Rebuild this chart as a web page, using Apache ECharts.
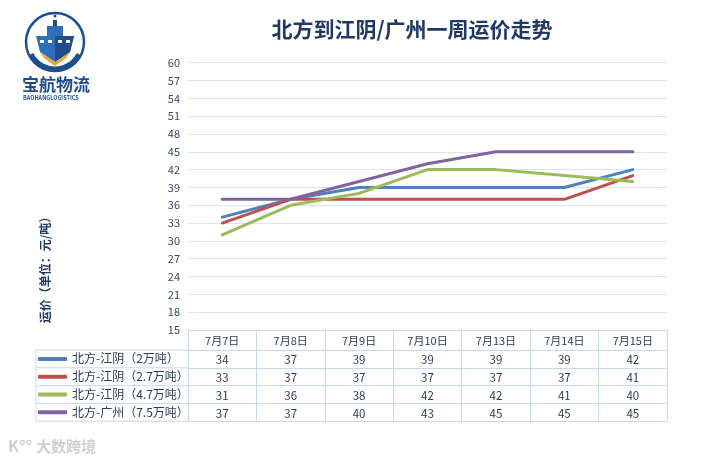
<!DOCTYPE html>
<html><head><meta charset="utf-8">
<script src="https://cdn.jsdelivr.net/npm/echarts@6/dist/echarts.min.js"></script>
<style>html,body{margin:0;padding:0;background:#fff}#c{width:719px;height:463px}</style>
</head><body><div id="c"></div>
<script>
const categories = ['7月7日','7月8日','7月9日','7月10日','7月13日','7月14日','7月15日'];
const seriesNames = ['北方-江阴（2万吨）','北方-江阴（2.7万吨）','北方-江阴（4.7万吨）','北方-广州（7.5万吨）'];
const jiangyin2 = [34,37,39,39,39,39,42];
const jiangyin27 = [33,37,37,37,37,37,41];
const jiangyin47 = [31,36,38,42,42,41,40];
const guangzhou75 = [37,37,40,43,45,45,45];
const allValues = [jiangyin2, jiangyin27, jiangyin47, guangzhou75];
const colors = ['#4F81BD','#C0504D','#9BBB59','#8064A2'];

const FONT = '"Noto Sans CJK SC", "Noto Sans", sans-serif';
const border = '#C9D8EA';
const txt = '#2E3B55';

const chart = echarts.init(document.getElementById('c'));
const gridLeft = 188, gridRight = 52, gridTop = 62.7, gridBottom = 133;
const rowH = 17.8, headH = 20;

const xAxes = [{
  type: 'category', data: categories, position: 'bottom', boundaryGap: true,
  axisLine: {show: true, lineStyle: {color: border, width: 1}},
  axisTick: {show: true, interval: 0, length: headH + rowH * 4, lineStyle: {color: border}},
  axisLabel: {interval: 0, margin: 5, color: txt, fontSize: 11, fontFamily: FONT},
  splitLine: {show: false}
}];
allValues.forEach((vals, k) => {
  xAxes.push({
    type: 'category', data: vals.map(String), position: 'bottom', offset: headH + rowH * k,
    axisLine: {show: true, lineStyle: {color: border}},
    axisTick: {show: false},
    axisLabel: {interval: 0, margin: 4, color: txt, fontSize: 11.5, fontFamily: FONT}
  });
});
xAxes.push({
  type: 'category', data: categories, position: 'bottom', offset: headH + rowH * 4,
  axisLine: {show: true, lineStyle: {color: border}},
  axisTick: {show: false}, axisLabel: {show: false}
});

const tableGraphics = [];
const legLeft = 36;
for (let k = 0; k <= 4; k++) {
  const y = 330 + headH + rowH * k;
  tableGraphics.push({type: 'line', shape: {x1: legLeft, y1: y, x2: gridLeft, y2: y}, style: {stroke: border, lineWidth: 1}});
}
tableGraphics.push({type: 'line', shape: {x1: legLeft, y1: 330 + headH, x2: legLeft, y2: 330 + headH + rowH * 4}, style: {stroke: border, lineWidth: 1}});

const logo = [
  {type: 'circle', shape: {cx: 55, cy: 42, r: 29}, style: {fill: 'none', stroke: '#1F4E8C', lineWidth: 2.5}},
  {type: 'arc', shape: {cx: 55, cy: 42, r: 27, startAngle: Math.PI * 0.15, endAngle: Math.PI * 0.85}, style: {stroke: '#1F4E8C', lineWidth: 5, fill: 'none'}},
  {type: 'polygon', shape: {points: [[36, 36], [74, 36], [70, 52], [55, 62], [40, 52]]}, style: {fill: '#2F6FB8'}},
  {type: 'polygon', shape: {points: [[55, 36], [74, 36], [70, 52], [55, 62]]}, style: {fill: '#1F4E8C'}},
  {type: 'polygon', shape: {points: [[40, 52], [55, 62], [70, 52], [66, 58], [55, 66], [44, 58]]}, style: {fill: '#E8A33A'}},
  {type: 'rect', shape: {x: 47, y: 26, width: 16, height: 10}, style: {fill: '#2F6FB8'}},
  {type: 'rect', shape: {x: 53, y: 20, width: 4, height: 6}, style: {fill: '#1F4E8C'}},
  {type: 'circle', shape: {cx: 55, cy: 16, r: 1.5}, style: {fill: '#1F4E8C'}},
  {type: 'rect', shape: {x: 40, y: 40, width: 4, height: 3}, style: {fill: '#fff'}},
  {type: 'rect', shape: {x: 48, y: 40, width: 4, height: 3}, style: {fill: '#fff'}},
  {type: 'rect', shape: {x: 58, y: 40, width: 4, height: 3}, style: {fill: '#fff'}},
  {type: 'rect', shape: {x: 66, y: 40, width: 4, height: 3}, style: {fill: '#fff'}},
  {type: 'text', left: 22, top: 76, style: {text: '宝航物流', fill: '#1F4E8C', font: 'bold 17px ' + FONT}},
  {type: 'text', left: 23, top: 95, style: {text: 'BAOHANGLOGISTICS', fill: '#1F4E8C', font: 'bold 5.5px ' + FONT}}
];

chart.setOption({
  animation: false,
  backgroundColor: '#fff',
  color: colors,
  title: {
    text: '北方到江阴/广州一周运价走势', left: 407, top: 14, textAlign: 'center',
    textStyle: {color: '#1F3864', fontSize: 21, fontWeight: 'bold', fontFamily: FONT}
  },
  legend: {
    orient: 'vertical', left: 38, top: 350, padding: 0, itemGap: 0,
    itemWidth: 29, itemHeight: 4, icon: 'roundRect',
    textStyle: {color: txt, fontSize: 12, lineHeight: rowH, fontFamily: FONT},
    data: seriesNames, selectedMode: false
  },
  grid: {left: gridLeft, right: gridRight, top: gridTop, bottom: gridBottom},
  xAxis: xAxes,
  yAxis: {
    type: 'value', min: 15, max: 60, interval: 3,
    axisLine: {show: false}, axisTick: {show: false},
    axisLabel: {color: '#2E4A6E', fontSize: 11, margin: 8, fontFamily: FONT},
    splitLine: {lineStyle: {color: '#D9E4F0', width: 1}}
  },
  series: allValues.map((vals, i) => ({
    name: seriesNames[i], type: 'line', data: vals, xAxisIndex: 0,
    showSymbol: false, symbol: 'none',
    lineStyle: {width: 3, color: colors[i], cap: 'round'},
    itemStyle: {color: colors[i]}
  })),
  graphic: [
    ...tableGraphics,
    ...logo,
    {type: 'text', x: 45, y: 267, rotation: Math.PI / 2, style: {text: '运价（单位：元/吨）', fill: '#1F3864', font: 'bold 12px ' + FONT, align: 'center', verticalAlign: 'middle'}},
    {type: 'text', left: 8, top: 438, style: {text: 'K°°', fill: '#D0D0D0', font: 'bold 16px ' + FONT}},
    {type: 'text', left: 36, top: 439, style: {text: '大数跨境', fill: '#D0D0D0', font: 'bold 15px ' + FONT}}
  ]
});
</script></body></html>
